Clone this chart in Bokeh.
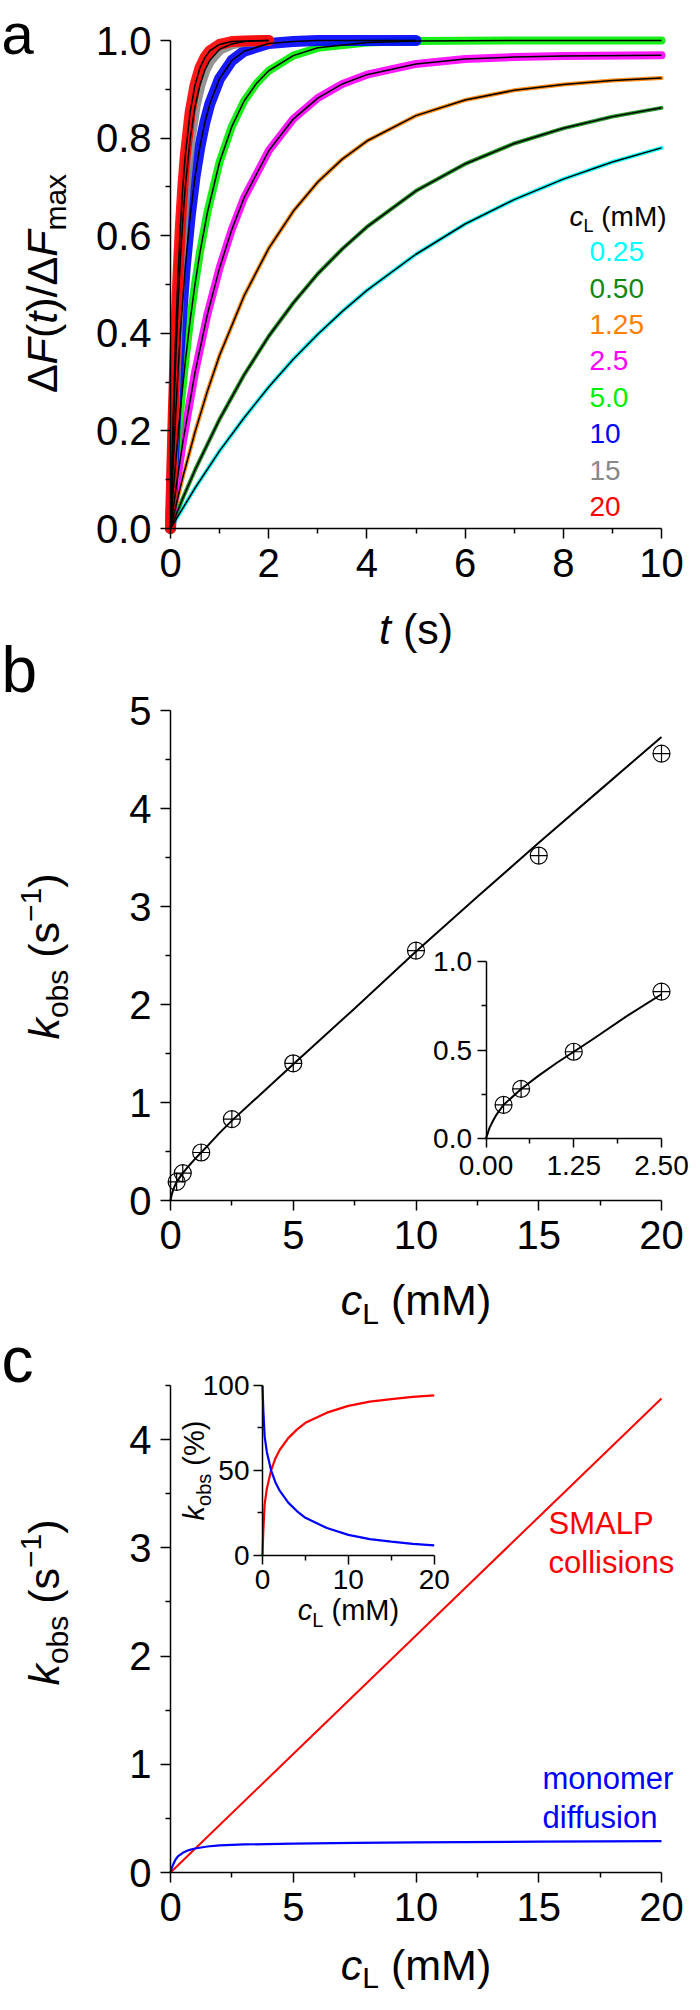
from bokeh.plotting import figure
from bokeh.models import Range1d, LinearAxis, FixedTicker, Label, PrintfTickFormatter
from bokeh.embed import file_html
from bokeh.resources import INLINE

FONT = "Liberation Sans"

# ---------------- data: panel a (normalised fluorescence vs time) ----------------
conc_labels = ["0.25", "0.50", "1.25", "2.5", "5.0", "10", "15", "20"]
conc_colors = ["#00FFFF", "#118811", "#FF8000", "#FF00FF", "#00EE00", "#0000FF", "#888888", "#FF0000"]

t_025 = [0, 0.5, 1, 1.5, 2, 2.5, 3, 3.5, 4, 5, 6, 7, 8, 9, 10]
f_025 = [0, 0.083, 0.159, 0.227, 0.290, 0.347, 0.398, 0.445, 0.488, 0.562, 0.624, 0.674, 0.716, 0.751, 0.780]

t_050 = [0, 0.25, 0.5, 1, 1.5, 2, 2.5, 3, 3.5, 4, 5, 6, 7, 8, 9, 10]
f_050 = [0, 0.062, 0.120, 0.224, 0.315, 0.394, 0.462, 0.522, 0.573, 0.618, 0.692, 0.747, 0.789, 0.820, 0.844, 0.862]

t_125 = [0, 0.25, 0.5, 0.75, 1, 1.5, 2, 2.5, 3, 3.5, 4, 5, 6, 7, 8, 9, 10]
f_125 = [0, 0.105, 0.198, 0.281, 0.355, 0.477, 0.574, 0.650, 0.710, 0.757, 0.794, 0.846, 0.878, 0.898, 0.910, 0.918, 0.923]

t_250 = [0, 0.125, 0.25, 0.5, 0.75, 1, 1.25, 1.5, 2, 2.5, 3, 3.5, 4, 5, 6, 7, 8, 10]
f_250 = [0, 0.092, 0.176, 0.320, 0.438, 0.534, 0.613, 0.678, 0.774, 0.839, 0.882, 0.911, 0.930, 0.952, 0.962, 0.966, 0.968, 0.970]

t_500 = [0, 0.05, 0.1, 0.2, 0.3, 0.4, 0.5, 0.6, 0.75, 1, 1.25, 1.5, 1.75, 2, 2.5, 3, 4, 5, 7, 10]
f_500 = [0, 0.067, 0.130, 0.243, 0.341, 0.427, 0.501, 0.566, 0.647, 0.751, 0.824, 0.876, 0.912, 0.938, 0.969, 0.985, 0.996, 0.999, 1.0, 1.0]

t_10 = [0, 0.05, 0.1, 0.15, 0.2, 0.3, 0.4, 0.5, 0.6, 0.7, 0.8, 1, 1.25, 1.5, 2, 2.5, 3, 5]
f_10 = [0, 0.120, 0.225, 0.318, 0.400, 0.535, 0.639, 0.721, 0.783, 0.832, 0.870, 0.922, 0.959, 0.978, 0.994, 0.998, 1.0, 1.0]

t_15 = [0, 0.025, 0.05, 0.1, 0.15, 0.2, 0.25, 0.3, 0.4, 0.5, 0.6, 0.7, 0.8, 1, 1.25, 1.5, 2]
f_15 = [0, 0.095, 0.181, 0.330, 0.451, 0.551, 0.632, 0.699, 0.798, 0.865, 0.909, 0.939, 0.959, 0.982, 0.993, 0.998, 1.0]

t_20 = [0, 0.025, 0.05, 0.1, 0.15, 0.2, 0.25, 0.3, 0.4, 0.5, 0.6, 0.7, 0.8, 1, 1.25, 1.5, 2]
f_20 = [0, 0.113, 0.213, 0.381, 0.513, 0.617, 0.699, 0.763, 0.853, 0.909, 0.944, 0.965, 0.979, 0.992, 0.998, 0.999, 1.0]

# ---------------- data: panel b (k_obs vs lipid concentration) ----------------
c_pts = [0.25, 0.5, 1.25, 2.5, 5, 10, 15, 20]
k_pts = [0.19, 0.28, 0.49, 0.83, 1.40, 2.55, 3.52, 4.56]
c_fit = [0, 0.05, 0.1, 0.15, 0.25, 0.5, 0.75, 1.0, 1.25, 1.5, 2.0, 2.5, 5, 7.5, 10, 12.5, 15, 17.5, 20]
k_fit = [0, 0.06, 0.10, 0.135, 0.19, 0.28, 0.355, 0.425, 0.49, 0.555, 0.69, 0.815, 1.39, 1.96, 2.54, 3.10, 3.65, 4.19, 4.73]

# ---------------- data: panel c (components) ----------------
c_coll = [0, 5, 10, 15, 20]
k_coll = [0, 1.095, 2.19, 3.285, 4.38]
c_mono = [0, 0.05, 0.1, 0.2, 0.3, 0.5, 0.75, 1, 1.5, 2, 3, 5, 7.5, 10, 15, 20]
k_mono = [0, 0.04, 0.07, 0.118, 0.148, 0.182, 0.207, 0.222, 0.240, 0.250, 0.259, 0.267, 0.274, 0.279, 0.285, 0.290]
c_pct = [0, 0.05, 0.1, 0.25, 0.5, 1, 1.5, 2, 3, 4, 5, 7.5, 10, 12.5, 15, 17.5, 20]
coll_pct = [0, 8, 15, 30, 39, 50, 57, 62, 69, 74, 78, 84, 88, 90.5, 92, 93.3, 94.2]
mono_pct = [100, 92, 85, 70, 61, 50, 43, 38, 31, 26, 22, 16, 12, 9.5, 8, 6.7, 5.8]

# ---------------- helpers ----------------
W = {"0": .556, "1": .556, "2": .556, "5": .556, ".": .278, " ": .278, "(": .333, ")": .333,
     "/": .278, "Δ": .668, "F": .611, "t": .278, "m": .833, "a": .556, "x": .5, "k": .5,
     "o": .556, "b": .556, "s": .5, "c": .5, "L": .556, "M": .833, "%": .889, "−": .584}
MID = 0.3465      # distance (em) from the centre of the text box down to the baseline

FIG_W, FIG_H = 690, 1994
PX0, PY0 = 8, 8   # page position of the figure's top-left corner
PAGE_BOTTOM = PY0 + FIG_H


def tw(s, size):
    return sum(W.get(ch, 0.556) for ch in s) * size


def rng(lo_px, hi_px, total_px, v_lo, v_hi):
    per = (hi_px - lo_px) / (v_hi - v_lo)
    return Range1d(v_lo - lo_px / per, v_lo + (total_px - lo_px) / per)


def xrange_for(page_lo, page_hi, v_lo, v_hi):
    return rng(page_lo - PX0, page_hi - PX0, FIG_W, v_lo, v_hi)


def yrange_for(page_lo, page_hi, v_lo, v_hi):
    # page_lo: page y of value v_lo (lower on screen), page_hi: page y of v_hi
    return rng(PAGE_BOTTOM - page_lo, PAGE_BOTTOM - page_hi, FIG_H, v_lo, v_hi)


p = figure(width=FIG_W, height=FIG_H, output_backend="svg", toolbar_location=None,
           x_axis_location=None, y_axis_location=None, min_border=0,
           x_range=xrange_for(178, 669, 0, 10), y_range=yrange_for(536, 48, 0, 1.0))
p.outline_line_color = None
p.xgrid.visible = False
p.ygrid.visible = False
p.background_fill_color = "white"
p.border_fill_color = "white"

p.extra_x_ranges = {
    "bx": xrange_for(178, 669, 0, 20), "cx": xrange_for(178, 669, 0, 20),
    "ibx": xrange_for(493.5, 669, 0, 2.5), "icx": xrange_for(270, 441.7, 0, 20)}
p.extra_y_ranges = {
    "by": yrange_for(1208, 718, 0, 5), "cy": yrange_for(1880, 1393, 0, 4.5),
    "iby": yrange_for(1146, 969, 0, 1.0), "icy": yrange_for(1562.7, 1393, 0, 100)}

PANEL_ORIGIN = {"a": (178, 536), "b": (178, 1208), "c": (178, 1880)}
PANEL_RANGES = {"a": ("default", "default"), "b": ("bx", "by"), "c": ("cx", "cy")}


def rich(panel, segs, x, y, angle=0.0, color="black", center=False):
    """segs: (text, size, style, baseline shift). x, y: page coords of the baseline start
    (or its centre if center=True)."""
    ox, oy = PANEL_ORIGIN[panel]
    xn, yn = PANEL_RANGES[panel]
    total = sum(tw(s[0], s[1]) for s in segs)
    adv = -total / 2 if center else 0.0
    for text, size, style, shift in segs:
        if text.strip():
            if angle == 0:
                sx, sy = x + adv, y + shift - MID * size
            else:
                sx, sy = x + shift - MID * size, y - adv
            p.add_layout(Label(x=0, y=0, x_range_name=xn, y_range_name=yn,
                               x_offset=sx - ox, y_offset=oy - sy, text=text,
                               angle=angle, text_font=FONT, text_font_size=f"{size}px",
                               text_font_style=style, text_color=color,
                               text_baseline="middle", text_align="left"))
        adv += tw(text, size)


def style_axis(ax, ticks, minor, fmt, size, tick_out, minor_out, standoff, lw=1.5):
    ax.ticker = FixedTicker(ticks=ticks, minor_ticks=minor)
    ax.formatter = PrintfTickFormatter(format=fmt)
    ax.major_label_text_font = FONT
    ax.major_label_text_font_size = f"{size}px"
    ax.major_label_text_color = "black"
    ax.major_tick_in = 0
    ax.major_tick_out = tick_out
    ax.minor_tick_in = 0
    ax.minor_tick_out = minor_out
    ax.axis_line_width = lw
    ax.major_tick_line_width = lw
    ax.minor_tick_line_width = lw
    ax.axis_line_color = "black"
    ax.major_tick_line_color = "black"
    ax.minor_tick_line_color = "black"
    ax.major_label_standoff = standoff
    ax.axis_label = None


def add_axes(xt, xm, xfmt, xb, yt, ym, yfmt, yb, size, tick, minor, sx, sy, xname, yname):
    ax = LinearAxis(x_range_name=xname, y_range_name=yname, fixed_location=0, bounds=xb)
    style_axis(ax, xt, xm, xfmt, size, tick, minor, sx)
    p.add_layout(ax, "below")
    ay = LinearAxis(x_range_name=xname, y_range_name=yname, fixed_location=0, bounds=yb)
    style_axis(ay, yt, ym, yfmt, size, tick, minor, sy)
    p.add_layout(ay, "left")


ROT = 1.5707963

# ================= panel a =================
add_axes([0, 2, 4, 6, 8, 10], [1, 3, 5, 7, 9], "%d", (0, 10),
         [0, 0.2, 0.4, 0.6, 0.8, 1.0], [0.1, 0.3, 0.5, 0.7, 0.9], "%.1f", (0, 1.0),
         40, 10, 5, 10, 9, "default", "default")

series = [(t_025, f_025, 4), (t_050, f_050, 4), (t_125, f_125, 4), (t_250, f_250, 8),
          (t_500, f_500, 8), (t_10, f_10, 11), (t_15, f_15, 11), (t_20, f_20, 11)]
for (tt, ff, w), col in zip(series, conc_colors):
    p.line(tt, ff, line_color=col, line_width=w, line_alpha=0.9, line_cap="round", line_join="round")
for (tt, ff, w) in series:
    p.line(tt, ff, line_color="black", line_width=1.5)

rich("a", [("a", 58, "normal", 0)], 9, 61)
rich("a", [("Δ", 43, "normal", 0), ("F", 43, "italic", 0), ("(", 43, "normal", 0),
           ("t", 43, "italic", 0), (")/Δ", 43, "normal", 0), ("F", 43, "italic", 0),
           ("max", 30, "normal", 9)], 64, 291, angle=ROT, center=True)
rich("a", [("t", 43, "italic", 0), (" ", 43, "normal", 0), ("(s)", 43, "normal", 0)],
     423.5, 651, center=True)
rich("a", [("c", 28, "italic", 0), ("L", 18, "normal", 6), (" ", 28, "normal", 0),
           ("(mM)", 28, "normal", 0)], 577, 234)
for i, (lab, col) in enumerate(zip(conc_labels, conc_colors)):
    rich("a", [(lab, 28, "normal", 0)], 597, 269 + i * 36.4, color=col)

# ================= panel b =================
add_axes([0, 5, 10, 15, 20], [2.5, 7.5, 12.5, 17.5], "%d", (0, 20),
         [0, 1, 2, 3, 4, 5], [0.5, 1.5, 2.5, 3.5, 4.5], "%d", (0, 5),
         40, 10, 5, 10, 9, "bx", "by")

p.line(c_fit, k_fit, line_color="black", line_width=2, x_range_name="bx", y_range_name="by")
p.scatter(c_pts, k_pts, marker="circle_cross", size=17, fill_color=None,
          line_color="black", line_width=1.2, x_range_name="bx", y_range_name="by")

n_in = sum(1 for c in c_fit if c <= 2.5)
p.line(c_fit[:n_in], k_fit[:n_in], line_color="black", line_width=2,
       x_range_name="ibx", y_range_name="iby")
m_in = sum(1 for c in c_pts if c <= 2.5)
p.scatter(c_pts[:m_in], k_pts[:m_in], marker="circle_cross", size=17, fill_color=None,
          line_color="black", line_width=1.2, x_range_name="ibx", y_range_name="iby")
add_axes([0, 1.25, 2.5], [0.625, 1.875], "%.2f", (0, 2.5),
         [0, 0.5, 1.0], [0.25, 0.75], "%.1f", (0, 1.0),
         28, 9, 5, 8, 5, "ibx", "iby")

rich("b", [("b", 64, "normal", 0)], 9, 700)
rich("b", [("k", 43, "italic", 0), ("obs", 30, "normal", 9), (" ", 43, "normal", 0),
           ("(s", 43, "normal", 0), ("−1", 30, "normal", -17), (")", 43, "normal", 0)],
     66, 964, angle=ROT, center=True)
rich("b", [("c", 43, "italic", 0), ("L", 30, "normal", 9), (" ", 43, "normal", 0),
           ("(mM)", 43, "normal", 0)], 423.5, 1322, center=True)

# ================= panel c =================
add_axes([0, 5, 10, 15, 20], [2.5, 7.5, 12.5, 17.5], "%d", (0, 20),
         [0, 1, 2, 3, 4], [0.5, 1.5, 2.5, 3.5, 4.5], "%d", (0, 4.5),
         40, 10, 5, 10, 9, "cx", "cy")

p.line(c_coll, k_coll, line_color="#FF0000", line_width=2, x_range_name="cx", y_range_name="cy")
p.line(c_mono, k_mono, line_color="#0000FF", line_width=2.2, x_range_name="cx", y_range_name="cy")
p.line(c_pct, coll_pct, line_color="#FF0000", line_width=2.2, x_range_name="icx", y_range_name="icy")
p.line(c_pct, mono_pct, line_color="#0000FF", line_width=2.2, x_range_name="icx", y_range_name="icy")
add_axes([0, 10, 20], [5, 15], "%d", (0, 20),
         [0, 50, 100], [25, 75], "%d", (0, 100),
         28, 9, 5, 6, 4, "icx", "icy")

rich("c", [("c", 64, "normal", 0)], 9, 1390)
rich("c", [("k", 43, "italic", 0), ("obs", 30, "normal", 9), (" ", 43, "normal", 0),
           ("(s", 43, "normal", 0), ("−1", 30, "normal", -17), (")", 43, "normal", 0)],
     66, 1610, angle=ROT, center=True)
rich("c", [("c", 43, "italic", 0), ("L", 30, "normal", 8), (" ", 43, "normal", 0),
           ("(mM)", 43, "normal", 0)], 423.5, 1987, center=True)
rich("c", [("SMALP", 31, "normal", 0)], 556, 1542, color="#FF0000")
rich("c", [("collisions", 31, "normal", 0)], 556, 1581, color="#FF0000")
rich("c", [("monomer", 31, "normal", 0)], 550, 1797, color="#0000FF")
rich("c", [("diffusion", 31, "normal", 0)], 550, 1836, color="#0000FF")
rich("c", [("c", 29, "italic", 0), ("L", 20, "normal", 6), (" ", 29, "normal", 0),
           ("(mM)", 29, "normal", 0)], 356, 1628, center=True)
rich("c", [("k", 29, "italic", 0), ("obs", 20, "normal", 6), (" ", 29, "normal", 0),
           ("(%)", 29, "normal", 0)], 212, 1478, angle=ROT, center=True)

open("out.html", "w").write(file_html(p, INLINE))
